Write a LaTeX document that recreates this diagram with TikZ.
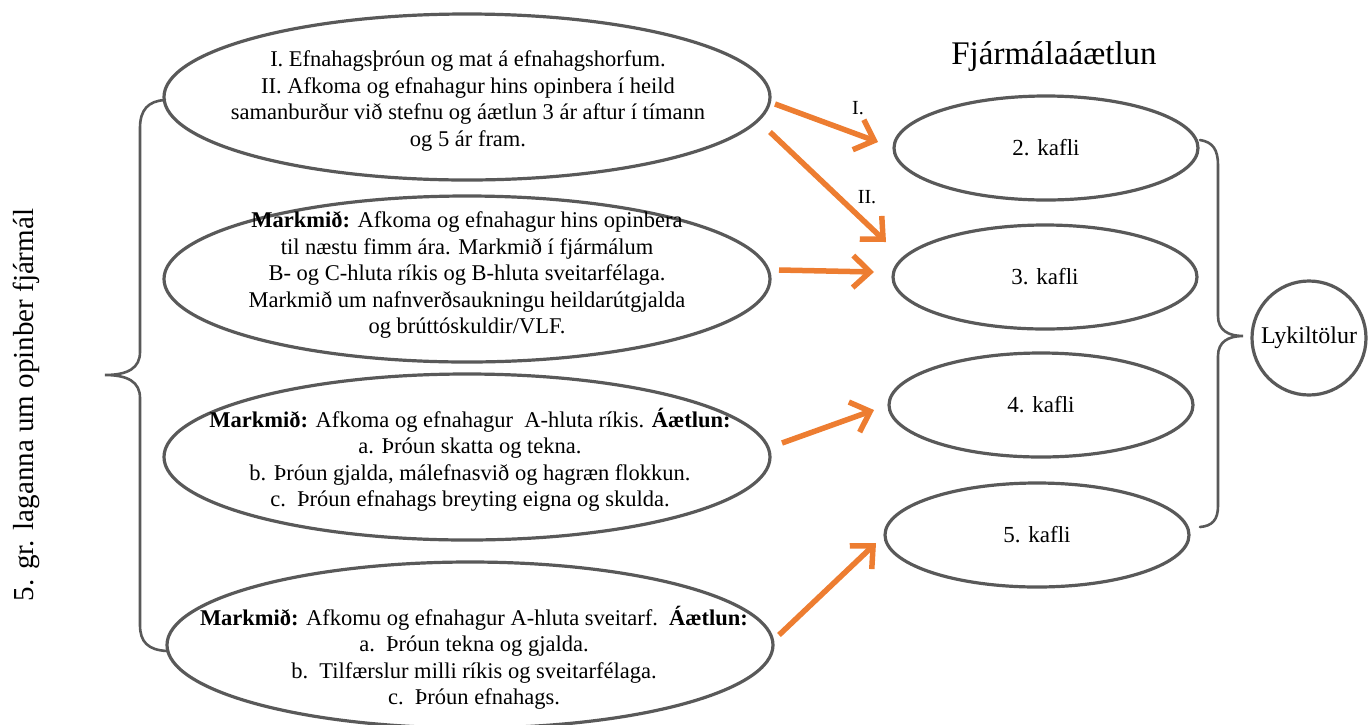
\documentclass[tikz,border=0pt]{standalone}
\usepackage{fontspec}
\setmainfont{Liberation Serif}
\usetikzlibrary{shapes.geometric,arrows.meta}
\definecolor{edgegray}{HTML}{595959}
\definecolor{orangearr}{HTML}{ED7D31}
\begin{document}
\begin{tikzpicture}[x=1pt,y=-1pt,
  bigov/.style={ellipse, draw=edgegray, line width=3.2pt, inner sep=0pt,
    minimum width=606pt, minimum height=166pt},
  ovtext/.style={inner sep=0pt, align=center, font=\fontsize{22.5}{26.5}\selectfont},
  smallov/.style={ellipse, draw=edgegray, line width=3.2pt, inner sep=0pt,
    minimum width=304pt, minimum height=104pt, font=\fontsize{23}{26}\selectfont},
  arr/.style={draw=orangearr, line width=5.5pt,
    -{Straight Barb[length=17pt,width=32pt]}},
  bracepath/.style={draw=edgegray, line width=2.6pt, line cap=round},
  lbl/.style={font=\fontsize{20}{22}\selectfont}]
\useasboundingbox (0,0) rectangle (1371,724);

% left ellipses
\node[bigov] (e1) at (467,97) {};
\node[bigov] (e2) at (467,279) {};
\node[bigov] (e3) at (467,457) {};
\node[bigov] (e4) at (470,645) {};
\node[ovtext] (t1) at (468,101) {I. Efnahagsþróun og mat á efnahagshorfum.\\
II. Afkoma og efnahagur hins opinbera í heild\\
samanburður við stefnu og áætlun 3 ár aftur í tímann\\
og 5 ár fram.};
\node[ovtext] (t2) at (467,275) {\textbf{Markmið:} Afkoma og efnahagur hins opinbera\\
til næstu fimm ára. Markmið í fjármálum\\
B- og C-hluta ríkis og B-hluta sveitarfélaga.\\
Markmið um nafnverðsaukningu heildarútgjalda\\
og brúttóskuldir/VLF.};
\node[ovtext] (t3) at (470,460) {\textbf{Markmið:} Afkoma og efnahagur\ \ A-hluta ríkis. \textbf{Áætlun:}\\
a. Þróun skatta og tekna.\\
b. Þróun gjalda, málefnasvið og hagræn flokkun.\\
c.\ \ Þróun efnahags breyting eigna og skulda.};
\node[ovtext] (t4) at (474,658) {\textbf{Markmið:} Afkomu og efnahagur A-hluta sveitarf.\ \ \textbf{Áætlun:}\\
a.\ \ Þróun tekna og gjalda.\\
b.\ \ Tilfærslur milli ríkis og sveitarfélaga.\\
c.\ \ Þróun efnahags.};

% right ellipses
\node[font=\fontsize{33}{36}\selectfont] (title) at (1054,57) {Fjármálaáætlun};
\node[smallov] (k2) at (1046,148) {2. kafli};
\node[smallov] (k3) at (1045,277) {3. kafli};
\node[smallov] (k4) at (1041,405) {4. kafli};
\node[smallov] (k5) at (1037,535) {5. kafli};
\node[circle, draw=edgegray, line width=3.2pt, inner sep=0pt, minimum size=114pt,
  font=\fontsize{24}{26}\selectfont] (lyk) at (1309,338) {Lykiltölur};

% left vertical label
\node[rotate=90, font=\fontsize{29}{31}\selectfont] (side) at (26,405) {5. gr. laganna um opinber fjármál};

% braces
\draw[bracepath] (165,100) .. controls (148,101) and (140,110) .. (140,128)
  -- (140,352) .. controls (140,368) and (128,375) .. (105,375)
  .. controls (128,375) and (140,382) .. (140,398)
  -- (140,625) .. controls (140,642) and (148,650) .. (167,651);
\draw[bracepath] (1200,140) .. controls (1213,142) and (1218,150) .. (1218,165)
  -- (1218,316) .. controls (1218,330) and (1228,336) .. (1243,336)
  .. controls (1228,336) and (1218,342) .. (1218,356)
  -- (1218,506) .. controls (1218,520) and (1212,526) .. (1200,527);

% arrows
\coordinate (a1s) at (775,104); \coordinate (a1e) at (878,142);
\coordinate (a2s) at (770,132); \coordinate (a2e) at (886,242);
\coordinate (a3s) at (779,270); \coordinate (a3e) at (874,272);
\coordinate (a4s) at (782,443); \coordinate (a4e) at (874,410);
\coordinate (a5s) at (779,635); \coordinate (a5e) at (876,543);
\draw[arr] (a1s) -- (a1e);
\draw[arr] (a2s) -- (a2e);
\draw[arr] (a3s) -- (a3e);
\draw[arr] (a4s) -- (a4e);
\draw[arr] (a5s) -- (a5e);
\node[lbl] (l1) at (858,108) {I.};
\node[lbl] (l2) at (867,197) {II.};
\end{tikzpicture}
\end{document}
